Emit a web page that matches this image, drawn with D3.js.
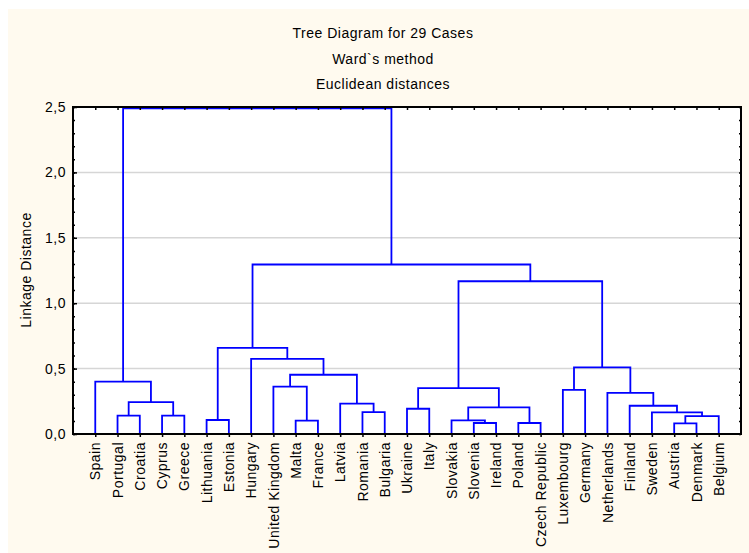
<!DOCTYPE html>
<html>
<head>
<meta charset="utf-8">
<script src="https://cdn.jsdelivr.net/npm/d3@7"></script>
<style>
body { margin: 0; background: #fff; }
text { font-family: "Liberation Sans", Arial, sans-serif; font-size: 14px; letter-spacing: 0.5px; fill: #000; }
</style>
</head>
<body>
<svg id="canvas" width="749" height="553"></svg>
<script>
// Configuration
const width = 749;
const height = 553;
const margin = { top: 107, right: 8, bottom: 119, left: 73 };

const titleLines = ['Tree Diagram for 29 Cases', 'Ward`s method', 'Euclidean distances'];
const yLabel = 'Linkage Distance';

// leaf order along the x axis
const leaves = ['Spain', 'Portugal', 'Croatia', 'Cyprus', 'Greece', 'Lithuania', 'Estonia',
    'Hungary', 'United Kingdom', 'Malta', 'France', 'Latvia', 'Romania', 'Bulgaria',
    'Ukraine', 'Italy', 'Slovakia', 'Slovenia', 'Ireland', 'Poland', 'Czech Republic',
    'Luxembourg', 'Germany', 'Netherlands', 'Finland', 'Sweden', 'Austria', 'Denmark', 'Belgium'];

// joins: [left id, right id, linkage distance]
// ids 0..28 are leaves, id 29 + k is the k-th join
const merges = [
    [1, 2, 0.14],    // 29 Portugal-Croatia
    [3, 4, 0.14],    // 30 Cyprus-Greece
    [29, 30, 0.243], // 31
    [0, 31, 0.40],   // 32 Spain + ...
    [5, 6, 0.107],   // 33 Lithuania-Estonia
    [9, 10, 0.102],  // 34 Malta-France
    [8, 34, 0.362],  // 35 United Kingdom + ...
    [12, 13, 0.168], // 36 Romania-Bulgaria
    [11, 36, 0.232], // 37 Latvia + ...
    [35, 37, 0.453], // 38
    [7, 38, 0.574],  // 39 Hungary + ...
    [33, 39, 0.658], // 40
    [14, 15, 0.193], // 41 Ukraine-Italy
    [17, 18, 0.084], // 42 Slovenia-Ireland
    [16, 42, 0.104], // 43 Slovakia + ...
    [19, 20, 0.084], // 44 Poland-Czech Republic
    [43, 44, 0.203], // 45
    [41, 45, 0.35],  // 46
    [21, 22, 0.338], // 47 Luxembourg-Germany
    [26, 27, 0.081], // 48 Austria-Denmark
    [48, 28, 0.137], // 49 + Belgium
    [25, 49, 0.165], // 50 Sweden + ...
    [24, 50, 0.216], // 51 Finland + ...
    [23, 51, 0.315], // 52 Netherlands + ...
    [47, 52, 0.51],  // 53
    [46, 53, 1.168], // 54
    [40, 54, 1.296], // 55
    [32, 55, 2.49]   // 56 root
];

const yTicks = [0, 0.5, 1, 1.5, 2, 2.5];
const yMinorTicks = d3.range(26).map(i => i / 10);

const svg = d3.select('#canvas');
const x0 = margin.left, x1 = width - margin.right;
const y0 = height - margin.bottom, y1 = margin.top;

// backgrounds
svg.append('rect').attr('width', width).attr('height', height).attr('fill', '#fff');
svg.append('rect').attr('x', 8).attr('y', 9).attr('width', width - 8).attr('height', height - 9).attr('fill', '#fffaef');
svg.append('rect').attr('x', x0).attr('y', y1).attr('width', x1 - x0).attr('height', y0 - y1).attr('fill', '#fff');

const x = d3.scalePoint().domain(leaves).range([x0, x1]).padding(1);
const y = d3.scaleLinear().domain([0, 2.5]).range([y0, y1]);

const locale = d3.formatLocale({ decimal: ',', thousands: '.', grouping: [3], currency: ['', ''] });
const fmt = locale.format('.1f');

// grid lines
svg.append('g').selectAll('line')
    .data(yTicks.filter(t => t > 0 && t < 2.5))
    .enter().append('line')
    .attr('x1', x0).attr('x2', x1)
    .attr('y1', d => y(d)).attr('y2', d => y(d))
    .attr('stroke', '#d6d6d6').attr('stroke-width', 1.5);

// dendrogram
const nodes = leaves.map(name => ({ x: x(name), h: 0 }));
merges.forEach(([a, b, h]) => {
    const l = nodes[a], r = nodes[b];
    nodes.push({ x: (l.x + r.x) / 2, h, l, r });
});
const joins = nodes.slice(leaves.length);

svg.append('g').selectAll('path')
    .data(joins)
    .enter().append('path')
    .attr('d', d => `M${d.l.x},${y(d.l.h)}V${y(d.h)}H${d.r.x}V${y(d.r.h)}`)
    .attr('fill', 'none')
    .attr('stroke', '#0000ff')
    .attr('stroke-width', 1.8);

// root stem up to top
const root = joins[joins.length - 1];

// axes
const styleAxis = g => {
    g.select('.domain').remove();
    g.selectAll('.tick line').attr('stroke', '#000').attr('stroke-width', 1.5);
};

svg.append('g').attr('transform', `translate(${x0},0)`)
    .call(d3.axisLeft(y).tickValues(yMinorTicks).tickSize(-2).tickFormat(''))
    .call(styleAxis);
svg.append('g').attr('transform', `translate(${x0},0)`)
    .call(d3.axisLeft(y).tickValues(yTicks).tickSize(-4).tickPadding(7).tickFormat(fmt))
    .call(styleAxis)
    .call(g => g.selectAll('text').attr('font-size', null).attr('font-family', null));
svg.append('g').attr('transform', `translate(${x1},0)`)
    .call(d3.axisRight(y).tickValues(yMinorTicks).tickSize(-2).tickFormat(''))
    .call(styleAxis);
svg.append('g').attr('transform', `translate(0,${y1})`)
    .call(d3.axisTop(x).tickSize(-3).tickFormat(''))
    .call(styleAxis);
svg.append('g').attr('transform', `translate(0,${y0})`)
    .call(d3.axisBottom(x).tickSize(3))
    .call(styleAxis)
    .call(g => g.selectAll('text')
        .attr('font-size', null).attr('font-family', null)
        .attr('transform', 'rotate(-90)')
        .attr('text-anchor', 'end')
        .attr('x', -8).attr('y', 0).attr('dy', '0.33em'));

// frame
svg.append('rect')
    .attr('x', x0).attr('y', y1).attr('width', x1 - x0).attr('height', y0 - y1)
    .attr('fill', 'none').attr('stroke', '#000').attr('stroke-width', 2);

// titles
svg.append('g').selectAll('text')
    .data(titleLines)
    .enter().append('text')
    .attr('x', 383)
    .attr('y', (d, i) => 38 + i * 25.5)
    .attr('text-anchor', 'middle')
    .text(d => d);

svg.append('text')
    .attr('transform', 'translate(31,270) rotate(-90)')
    .attr('text-anchor', 'middle')
    .text(yLabel);
</script>
</body>
</html>
